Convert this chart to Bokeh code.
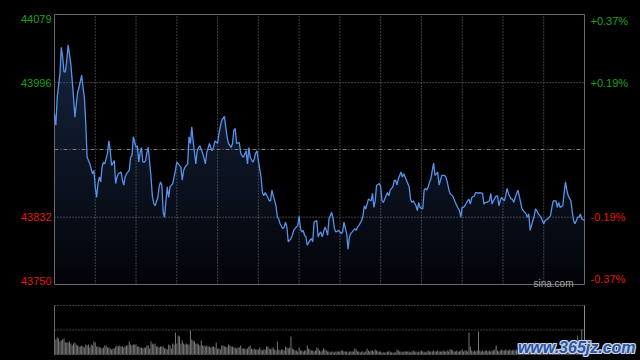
import numpy as np
from bokeh.plotting import figure
from bokeh.models import Range1d
from bokeh.layouts import column
from bokeh.core.properties import value
from bokeh.embed import file_html
from bokeh.resources import INLINE

# ---- data ----
times = [0, 1, 2, 4, 5, 6, 7, 8, 9, 10, 12, 13, 14, 15, 17, 18, 20, 21, 22, 23,
         24, 25, 26, 28, 29, 30, 31, 32, 33, 34, 35, 36, 37, 39, 40, 41, 42, 44, 45, 46,
         47, 49, 50, 51, 52, 53, 55, 56, 57, 58, 60, 61, 62, 63, 64, 65, 66, 67, 68, 69,
         71, 72, 73, 74, 76, 77, 78, 79, 80, 81, 82, 83, 84, 85, 87, 88, 89, 90, 91, 93,
         94, 95, 96, 98, 99, 100, 101, 102, 104, 105, 106, 107, 109, 110, 111, 112, 114, 115, 116, 117,
         118, 120, 121, 122, 123, 125, 126, 127, 128, 130, 131, 132, 133, 134, 136, 137, 138, 139, 141, 142,
         143, 144, 146, 147, 148, 149, 150, 152, 153, 154, 155, 157, 158, 159, 160, 161, 163, 164, 165, 166,
         168, 169, 170, 171, 172, 174, 175, 176, 177, 179, 180, 181, 182, 183, 184, 185, 186, 188, 189, 190,
         191, 193, 194, 195, 196, 197, 199, 200, 201, 202, 204, 205, 206, 207, 209, 210, 211, 212, 213, 215,
         216, 217, 218, 220, 221, 222, 223, 224, 226, 227, 228, 229, 230, 231, 233, 234, 235, 236, 237, 239,
         240, 241, 242, 244, 245, 246, 247, 249, 250, 251, 252, 253, 255, 256, 257, 258, 260, 261, 262, 263,
         264, 266, 267, 268, 269, 271, 272, 273, 274, 275, 276, 277, 278, 279, 280, 282, 283, 284, 285, 287,
         288, 289, 290, 291, 293, 294, 295, 296, 298, 299, 300, 301, 302, 304, 305, 306, 307, 309, 310, 311,
         312, 313, 315, 316, 317, 318, 320, 321, 322, 323, 325, 326, 327, 328, 329, 331, 332, 333, 334, 336,
         337, 338, 339, 341, 342, 343, 344, 345, 347, 348, 349, 350, 352, 353, 354, 355, 356, 358, 359, 360,
         361, 363, 364, 365, 366, 367, 369, 370, 371, 372, 374, 375, 376, 377, 378, 380, 381, 382, 383, 385,
         386, 387, 388, 390]

prices = [43958, 43944, 43978, 44007, 44039, 44027, 44009, 44009, 44023, 44042, 44019, 43999, 43978, 43954, 43984, 43990, 44005, 43990, 43978, 43946,
          43905, 43901, 43897, 43885, 43889, 43869, 43856, 43873, 43881, 43875, 43893, 43899, 43897, 43910, 43925, 43913, 43895, 43901, 43873, 43881,
          43885, 43887, 43877, 43871, 43881, 43885, 43889, 43905, 43907, 43930, 43917, 43919, 43899, 43911, 43917, 43899, 43899, 43901, 43911, 43917,
          43881, 43858, 43849, 43846, 43856, 43869, 43875, 43871, 43838, 43832, 43852, 43869, 43856, 43869, 43873, 43881, 43889, 43899, 43897, 43893,
          43877, 43889, 43893, 43897, 43930, 43922, 43942, 43925, 43897, 43913, 43917, 43919, 43910, 43904, 43897, 43910, 43922, 43917, 43913, 43917,
          43925, 43922, 43934, 43942, 43950, 43955, 43942, 43930, 43922, 43917, 43922, 43938, 43940, 43922, 43923, 43910, 43907, 43905, 43913, 43897,
          43917, 43905, 43899, 43903, 43910, 43913, 43901, 43881, 43862, 43858, 43862, 43856, 43852, 43852, 43865, 43858, 43846, 43832, 43830, 43824,
          43818, 43820, 43826, 43820, 43802, 43806, 43810, 43816, 43818, 43822, 43833, 43818, 43814, 43816, 43810, 43808, 43798, 43804, 43806, 43802,
          43826, 43828, 43808, 43812, 43814, 43808, 43820, 43816, 43810, 43830, 43838, 43830, 43818, 43814, 43816, 43814, 43812, 43814, 43826, 43812,
          43793, 43808, 43812, 43816, 43818, 43816, 43820, 43822, 43828, 43834, 43846, 43842, 43848, 43854, 43852, 43861, 43844, 43852, 43871, 43873,
          43869, 43852, 43850, 43858, 43862, 43858, 43865, 43869, 43877, 43877, 43871, 43879, 43887, 43881, 43885, 43881, 43873, 43869, 43854, 43850,
          43852, 43846, 43840, 43850, 43844, 43842, 43865, 43867, 43865, 43869, 43875, 43879, 43889, 43898, 43883, 43887, 43871, 43877, 43883, 43883,
          43881, 43875, 43867, 43861, 43858, 43854, 43850, 43846, 43840, 43832, 43844, 43844, 43846, 43852, 43854, 43848, 43856, 43858, 43862, 43862,
          43861, 43862, 43861, 43848, 43850, 43850, 43852, 43861, 43848, 43852, 43858, 43858, 43846, 43852, 43856, 43852, 43858, 43867, 43861, 43854,
          43854, 43850, 43856, 43865, 43858, 43850, 43842, 43840, 43836, 43832, 43836, 43816, 43828, 43834, 43842, 43840, 43836, 43832, 43828, 43824,
          43828, 43830, 43832, 43834, 43844, 43852, 43852, 43844, 43850, 43844, 43846, 43862, 43875, 43865, 43858, 43852, 43838, 43828, 43824, 43832,
          43832, 43836, 43830, 43828]

vol_minutes = list(range(391))
volumes = [16, 15, 17, 16, 13, 14, 15, 16, 12, 12,
           12, 13, 11, 9, 11, 12, 10, 9, 8, 8,
           9, 8, 7, 10, 9, 10, 7, 10, 9, 13,
           12, 8, 8, 7, 7, 6, 7, 9, 9, 7,
           7, 6, 5, 6, 6, 8, 9, 8, 9, 8,
           8, 7, 8, 9, 9, 13, 10, 9, 10, 10,
           10, 8, 8, 7, 7, 6, 7, 7, 9, 9,
           6, 13, 11, 10, 11, 8, 8, 7, 8, 8,
           8, 6, 6, 5, 10, 9, 6, 11, 10, 22,
           11, 19, 18, 11, 14, 11, 10, 11, 10, 10,
           24, 15, 14, 13, 11, 11, 10, 9, 14, 9,
           9, 8, 9, 8, 8, 7, 8, 8, 7, 12,
           6, 6, 5, 9, 9, 8, 8, 7, 10, 9,
           8, 8, 7, 7, 6, 7, 7, 9, 6, 6,
           6, 5, 6, 8, 9, 6, 5, 6, 5, 5,
           5, 7, 5, 4, 5, 5, 8, 8, 6, 5,
           6, 7, 5, 4, 13, 5, 4, 5, 5, 4,
           8, 7, 6, 7, 18, 6, 5, 4, 4, 3,
           7, 4, 4, 3, 4, 4, 9, 6, 5, 4,
           4, 3, 4, 7, 6, 4, 3, 4, 6, 5,
           4, 3, 3, 2, 3, 3, 2, 3, 3, 3,
           3, 4, 4, 3, 3, 3, 2, 3, 3, 3,
           3, 6, 5, 3, 3, 2, 3, 3, 2, 3,
           6, 4, 3, 4, 4, 3, 5, 4, 3, 3,
           3, 2, 2, 2, 2, 3, 3, 3, 2, 2,
           2, 2, 5, 4, 3, 3, 2, 3, 3, 3,
           3, 3, 2, 3, 4, 3, 3, 2, 3, 3,
           4, 3, 3, 2, 3, 4, 3, 3, 3, 4,
           3, 3, 4, 3, 3, 3, 4, 3, 3, 4,
           3, 5, 5, 4, 3, 3, 4, 3, 3, 4,
           5, 3, 4, 4, 3, 22, 8, 4, 3, 4,
           3, 4, 23, 4, 3, 4, 3, 4, 4, 3,
           4, 3, 4, 4, 5, 9, 4, 3, 4, 5,
           4, 4, 5, 4, 4, 5, 4, 4, 5, 4,
           5, 4, 4, 5, 4, 5, 5, 4, 5, 4,
           5, 5, 4, 5, 5, 4, 5, 5, 6, 5,
           5, 6, 5, 5, 6, 5, 6, 6, 5, 6,
           6, 5, 6, 7, 6, 6, 7, 6, 7, 8,
           7, 6, 8, 7, 8, 19, 7, 8, 25, 9,
           49]

prev_close = 43914.5
price_low, price_high = 43750, 44079
left_ticks = [44079, 43996, 43832, 43750]
left_labels = ["44079", "43996", "43832", "43750"]
right_labels = ["+0.37%", "+0.19%", "-0.19%", "-0.37%"]
time_grid = [30, 60, 90, 120, 150, 180, 210, 240, 270, 300, 330, 360]
session_start, session_end = 0, 390

# ---- layout geometry (pixels) ----
W = 640
MAIN_H = 294
F_L, F_R, F_T, F_B = 54, 584, 14, 284          # main frame edges
VOL_H = 66
V_T, V_B = 11, 60                              # volume frame edges inside its figure

# ---- styles ----
BG = "#000000"
FRAME = "#6a6a6a"
GRID = "#7c7c7c"
UP = "#17a317"
DOWN = "#e01a12"
LINE = "#5592ea"
FONT = "Liberation Sans"

xs = (session_end - session_start) / (F_R - F_L)
x_rng = (session_start - F_L * xs, session_end + (W - F_R) * xs)
ys = (price_high - price_low) / (F_B - F_T)
y_rng = (price_low - (MAIN_H - F_B) * ys, price_high + F_T * ys)

p = figure(width=W, height=MAIN_H, x_range=Range1d(*x_rng), y_range=Range1d(*y_rng),
           x_axis_location=None, y_axis_location=None,
           output_backend="svg", toolbar_location=None,
           background_fill_color=BG, border_fill_color=BG,
           min_border=0)
p.grid.visible = False
p.outline_line_color = None

# gradient fill under the line (layered)
pr = np.array(prices, dtype=float)
top_rgb = np.array([25, 40, 70])
bot_rgb = np.array([3, 4, 8])
K = 30
step = (price_high - price_low) / K
for k in range(K):
    lvl = price_high - k * step
    frac = (k + 0.5) / K
    c = (top_rgb + (bot_rgb - top_rgb) * frac).astype(int)
    col = "#%02x%02x%02x" % tuple(c)
    p.varea(x=times, y1=[price_low] * len(times), y2=np.minimum(pr, lvl), fill_color=col)

# grid lines bounded by the frame
p.segment(x0=time_grid, y0=[price_low] * len(time_grid), x1=time_grid, y1=[price_high] * len(time_grid),
          line_color=GRID, line_dash="1 2", line_width=1)
hl = [left_ticks[1], left_ticks[2]]
p.segment(x0=[session_start] * 2, y0=hl, x1=[session_end] * 2, y1=hl,
          line_color=GRID, line_dash="1 2", line_width=1)
p.segment(x0=[session_start], y0=[prev_close], x1=[session_end], y1=[prev_close],
          line_color=GRID, line_dash="4 2 1 2", line_width=1)

# frame
p.quad(left=[session_start], right=[session_end], bottom=[price_low], top=[price_high],
       fill_color=None, line_color=FRAME, line_width=1)

p.line(times, prices, line_color=LINE, line_width=1.3)

baselines = ["top", "middle", "middle", "bottom"]
colors = [UP, UP, DOWN, DOWN]
for val, lt, rt, bl, cl in zip(left_ticks, left_labels, right_labels, baselines, colors):
    p.text(x=[session_start], y=[val], text=[lt], text_align="right", text_baseline=bl, x_offset=-3,
           text_color=cl, text_font_size=value("11px"), text_font=value(FONT))
    p.text(x=[session_end], y=[val], text=[rt], text_align="left", text_baseline=bl, x_offset=6,
           text_color=cl, text_font_size=value("11px"), text_font=value(FONT))

p.text(x=[session_end], y=[price_low], text=["sina.com"], text_align="right",
       text_baseline="alphabetic", x_offset=-11, y_offset=-1.5,
       text_color="#a8a8a8", text_font_size=value("10px"), text_font=value(FONT))

# ---- volume panel ----
vmax = max(volumes)
vs = vmax / (V_B - V_T)
v = figure(width=W, height=VOL_H, x_range=Range1d(*x_rng),
           y_range=Range1d(0 - (VOL_H - V_B) * vs, vmax + V_T * vs),
           x_axis_location=None, y_axis_location=None,
           output_backend="svg", toolbar_location=None,
           background_fill_color=BG, border_fill_color=BG,
           min_border=0)
v.grid.visible = False
v.outline_line_color = None
v.vbar(x=vol_minutes, top=volumes, width=0.72, bottom=0, fill_color="#7a7a7a", line_color=None)
vl = [0, vmax / 2, vmax]
v.segment(x0=[session_start] * 3, y0=vl, x1=[session_end] * 3, y1=vl,
          line_color=GRID, line_dash="1 2", line_width=1)
v.segment(x0=[session_start], y0=[0], x1=[session_start], y1=[vmax], line_color=FRAME, line_width=1)
v.segment(x0=[session_end], y0=[0], x1=[session_end], y1=[vmax], line_color="#8a8a8a", line_width=1)

wm = "www.365jz.com"
wm_x = 341
for dx, dy in [(-1, 0), (1, 0), (0, -1), (0, 1), (-1, -1), (1, 1), (-1, 1), (1, -1)]:
    v.text(x=[wm_x], y=[0], text=[wm], text_align="left", text_baseline="alphabetic",
           x_offset=dx, y_offset=-7 + dy, text_color="#c9d3e4",
           text_font_size=value("16px"), text_font=value(FONT), text_font_style="bold italic")
v.text(x=[wm_x], y=[0], text=[wm], text_align="left", text_baseline="alphabetic",
       x_offset=0, y_offset=-7, text_color="#2a55a3",
       text_font_size=value("16px"), text_font=value(FONT), text_font_style="bold italic")

layout = column(p, v, spacing=0, styles={"background-color": BG})
html = file_html(layout, INLINE)
html = html.replace("<body>", '<body style="background:#000000;">', 1)
open("out.html", "w").write(html)
